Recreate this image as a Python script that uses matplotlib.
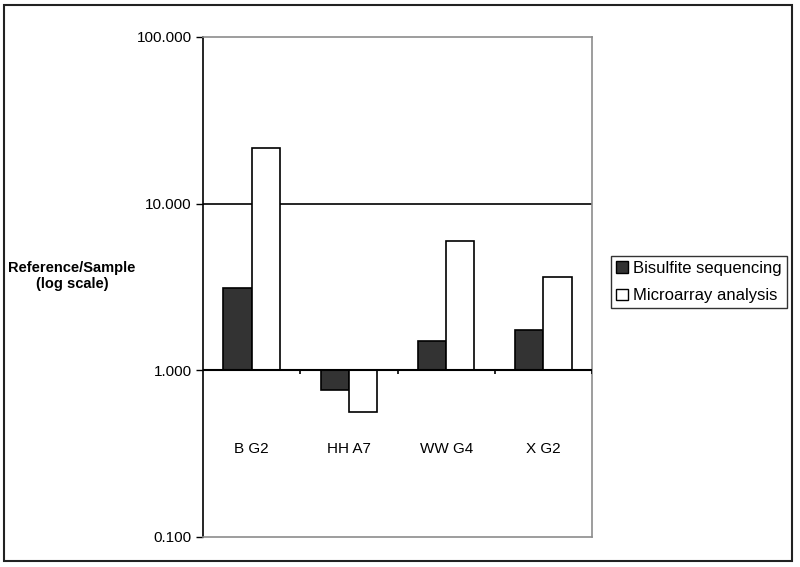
import matplotlib
matplotlib.use("Agg")
import matplotlib.pyplot as plt
from matplotlib.patches import Rectangle
from matplotlib.ticker import FixedLocator, NullLocator, FormatStrFormatter
import numpy as np

plt.rcParams['font.family'] = ['Liberation Sans', 'DejaVu Sans']

samples = ['B G2', 'HH A7', 'WW G4', 'X G2']
bisulfite = [3.1, 0.76, 1.49, 1.74]
microarray = [21.7, 0.56, 5.95, 3.62]
series_names = ['Bisulfite sequencing', 'Microarray analysis']
y_ticks = [0.1, 1, 10, 100]

fig = plt.figure(figsize=(8, 5.67), dpi=100)
ax = fig.add_axes([203 / 800, 1 - 537 / 567, 389 / 800, 500 / 567])

x = np.arange(len(samples))
w = 0.29
b1 = ax.bar(x - w / 2, np.array(bisulfite) - 1, w, bottom=1, color='#333333',
            edgecolor='black', linewidth=1.2, label=series_names[0], zorder=3)
b2 = ax.bar(x + w / 2, np.array(microarray) - 1, w, bottom=1, color='white',
            edgecolor='black', linewidth=1.2, label=series_names[1], zorder=3)

ax.set_yscale('log')
ax.set_ylim(0.1, 100)
ax.set_xlim(-0.5, len(samples) - 0.5)
ax.yaxis.set_major_locator(FixedLocator(y_ticks))
ax.yaxis.set_minor_locator(NullLocator())
ax.yaxis.set_major_formatter(FormatStrFormatter('%.3f'))
ax.tick_params(axis='y', direction='out', length=5, width=1, labelsize=11, pad=3)
ax.set_xticks([])

# gridline at 10 and category axis at 1
ax.axhline(10, color='black', lw=1.2, zorder=2)
ax.axhline(1, color='black', lw=1.5, zorder=4)
ax.vlines(np.arange(len(samples)) + 0.5, 0.945, 1, color='black', lw=1.2, zorder=4)

for i, s in enumerate(samples):
    ax.text(i, 0.335, s, ha='center', va='center', fontsize=11)

for side in ['top', 'right', 'bottom']:
    ax.spines[side].set_color('#8c8c8c')
    ax.spines[side].set_linewidth(1.2)
ax.spines['left'].set_color('black')
ax.spines['left'].set_linewidth(1.2)

fig.text(72 / 800, 1 - 276 / 567, 'Reference/Sample\n(log scale)', ha='center',
         va='center', fontsize=10.5, fontweight='bold', linespacing=1.25)

leg = fig.legend(handles=[b1, b2], loc='center', bbox_to_anchor=(699 / 800, 1 - 282 / 567),
                 fontsize=12, frameon=True, fancybox=False, edgecolor='black',
                 handlelength=0.7, handleheight=0.7, handletextpad=0.35,
                 borderpad=0.3, labelspacing=0.75, borderaxespad=0)
leg.get_frame().set_linewidth(1.0)
for p in leg.get_patches():
    p.set_linewidth(1.0)

fig.patches.append(Rectangle((4 / 800, 1 - 561 / 567), 788 / 800, 556 / 567,
                             transform=fig.transFigure, fill=False,
                             edgecolor='#222222', lw=1.5))

fig.savefig('out.png', dpi=100)
